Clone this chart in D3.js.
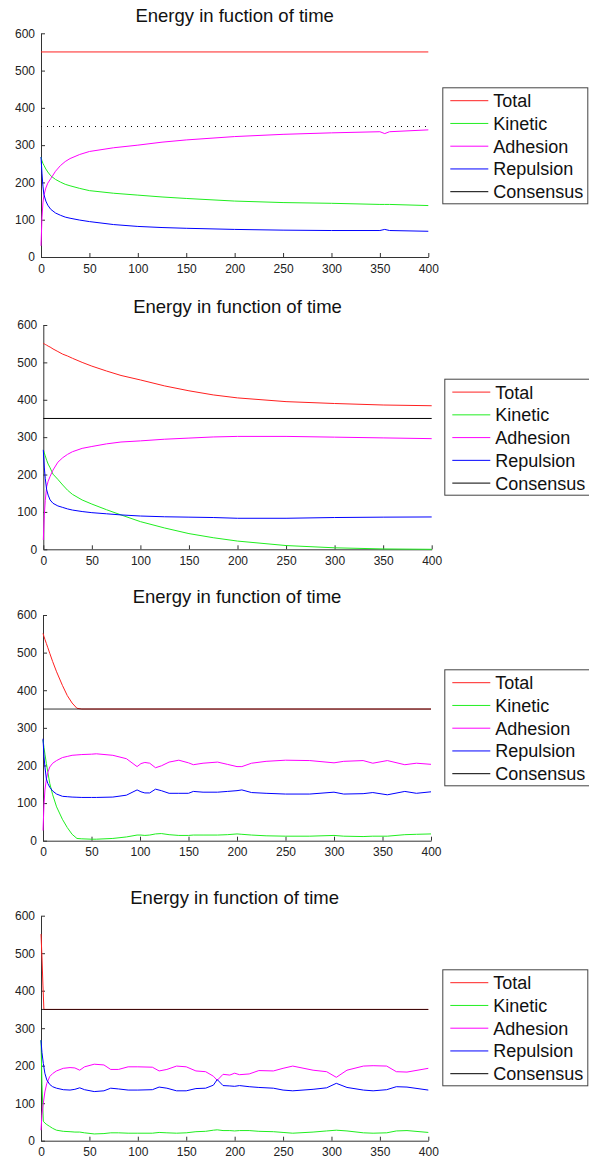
<!DOCTYPE html>
<html>
<head>
<meta charset="utf-8">
<script src="https://cdn.jsdelivr.net/npm/d3@7"></script>
<style>
  body { margin: 0; background: #fff; }
  svg { display: block; font-family: "Liberation Sans", Arial, Helvetica, sans-serif; }
  .tick text { fill: #222; font-size: 12px; }
  .domain, .tick line { stroke: #333; }
</style>
</head>
<body>
<div id="chart"></div>
<script>
const timeTicks = [0, 50, 100, 150, 200, 250, 300, 350, 400]
const energyTicks = [0, 100, 200, 300, 400, 500, 600]
const seriesNames = ["Total", "Kinetic", "Adhesion", "Repulsion", "Consensus"]
const seriesColors = ["#ff2020", "#20ee20", "#ff00ff", "#0000ff", "#000000"]
const panelTitles = [
    "Energy in fuction of time",
    "Energy in function of time",
    "Energy in function of time",
    "Energy in function of time"
]

const flatTime = [0, 400]

// panel 1
const time1 = [0, 1, 2, 3, 5, 7, 10, 15, 20, 25, 30, 40, 50, 75, 100, 125, 150, 200, 250, 300, 350, 355, 360, 400]
const total1 = [550, 550]
const kinetic1 = [268, 258, 251, 246, 236, 228, 218, 208, 201, 195, 191, 184, 178, 171, 166, 161, 157, 150, 146, 144, 141, 141, 141, 138]
const adhesion1 = [30, 105, 145, 165, 185, 198, 210, 230, 245, 256, 264, 275, 283, 293, 300, 308, 314, 323, 329, 333, 336, 331, 336, 341]
const repulsion1 = [268, 225, 190, 168, 150, 139, 128, 118, 112, 107, 104, 99, 95, 87, 82, 79, 77, 74, 72, 71, 71, 74, 71, 69]
const consensus1 = [350, 350]

// panel 2
const time2 = [0, 1, 2, 3.5, 5, 7, 10, 15, 20, 25, 30, 40, 50, 65, 80, 100, 125, 150, 175, 200, 250, 300, 350, 400]
const total2 = [551, 549.5, 548, 546, 543.5, 541, 536, 529, 522, 517, 511, 500, 490, 477, 465, 453, 437, 424, 413, 405, 395, 390, 386, 384]
const kinetic2 = [266, 258, 250, 238, 228, 218, 201, 187, 172, 158, 147, 132, 121, 106, 92, 74, 57, 42, 31, 22, 10, 4, 1, 0]
const adhesion2 = [25, 90, 130, 168, 182, 195, 212, 233, 245, 254, 261, 270, 275, 282, 287, 290, 294.5, 297.5, 300.5, 302, 302, 300, 298, 296]
const repulsion2 = [266, 220, 190, 159, 145, 132, 123, 116, 112, 108, 105, 101, 98, 95, 92, 89, 87, 86, 85, 83, 83, 85, 86, 86.5]
const consensus2 = [350, 350]

// panel 3
const time3 = [0, 1, 2, 3.5, 5, 7, 10, 14, 20, 25, 30, 35, 40, 50, 55, 72, 86, 97, 101, 105, 110, 116, 122, 130, 140, 150, 155, 165, 180, 190, 200, 205, 215, 230, 250, 275, 300, 310, 330, 340, 355, 373, 385, 400]
const total3Time = [0, 1, 2, 3.5, 5, 7, 10, 14, 20, 25, 30, 35, 40, 400]
const total3 = [551, 543, 535, 524, 513, 498, 476, 449, 413, 386, 366, 352, 350, 350]
const kinetic3 = [268, 248, 230, 205, 182, 152, 122, 90, 57, 35, 17, 6, 5, 4, 4, 6, 10, 15, 15, 14, 15, 18, 19, 16, 14, 14, 15, 15, 15, 16, 18, 17, 15, 13, 12, 12, 14, 12, 11, 12, 12, 16, 17, 18]
const adhesion3 = [27, 95, 135, 164, 182, 196, 206, 213, 221, 224, 227, 228, 229, 230, 231, 227, 218, 197, 205, 208, 206, 194, 199, 209, 214, 207, 202, 206, 209, 203, 197, 197, 206, 211, 214, 213, 207, 211, 213, 206, 213, 202, 206, 203]
const repulsion3 = [271, 225, 196, 164, 152, 142, 132, 124, 118, 117, 116, 115.5, 115, 115, 115, 116, 121, 135, 130, 127, 127, 137, 133, 126, 126, 126, 131, 129, 129, 131, 133, 135, 128, 126, 124, 124, 129, 124, 125, 128, 122, 131, 126, 130]
const consensus3 = [350, 350]

// panel 4
const time4 = [0, 1, 2.4, 4, 6, 9, 12, 16, 23, 30, 35, 40, 45, 55, 65, 72, 80, 90, 100, 115, 122, 130, 140, 150, 160, 170, 178, 182, 188, 195, 200, 205, 215, 225, 240, 250, 260, 281, 295, 305, 316, 333, 343, 357, 367, 378, 400]
const total4Time = [0, 1, 2, 3, 400]
const total4 = [551, 490, 415, 350, 350]
const kinetic4 = [268, 150, 52, 47, 43, 38, 33, 28, 25, 24, 23, 23, 21, 18, 19, 21, 21, 20, 20, 20, 22, 21, 20, 21, 24, 25, 28, 29, 27, 27, 26, 27, 27, 25, 24, 22, 20, 23, 26, 28, 26, 21, 20, 21, 26, 27, 22]
const adhesion4 = [28, 70, 100, 130, 153, 171, 179, 186, 193, 195, 194, 188, 197, 204, 202, 190, 190, 197, 197, 196, 186, 190, 199, 197, 186, 184, 172, 161, 177, 175, 180, 176, 178, 187, 186, 193, 199, 188, 184, 169, 188, 199, 200, 199, 184, 183, 193]
const repulsion4 = [268, 235, 206, 180, 162, 150, 144, 140, 136, 135, 137, 141, 136, 131, 133, 140, 138, 135, 135, 136, 143, 140, 133, 133, 139, 140, 148, 163, 147, 146, 145, 147, 144, 142, 140, 135, 133, 137, 141, 153, 142, 135, 133, 136, 144, 143, 135]
const consensus4 = [350, 350]

const panelData = [
    [[flatTime, total1], [time1, kinetic1], [time1, adhesion1], [time1, repulsion1], [flatTime, consensus1]],
    [[time2, total2], [time2, kinetic2], [time2, adhesion2], [time2, repulsion2], [flatTime, consensus2]],
    [[total3Time, total3], [time3, kinetic3], [time3, adhesion3], [time3, repulsion3], [flatTime, consensus3]],
    [[total4Time, total4], [time4, kinetic4], [time4, adhesion4], [time4, repulsion4], [flatTime, consensus4]]
]

// layout of the four stacked axes
const frames = [
    { left: 41, right: 428.3, top: 33.3, bottom: 257, titleY: 16, legendX: 442.3, legendY: 87.3, consensusDash: "1,5" },
    { left: 43.3, right: 431.7, top: 325, bottom: 549.3, titleY: 307, legendX: 444.3, legendY: 378.7, consensusDash: null },
    { left: 43, right: 431, top: 615, bottom: 840.7, titleY: 597, legendX: 444.3, legendY: 669.3, consensusDash: null },
    { left: 41, right: 428.3, top: 915.7, bottom: 1140.7, titleY: 898, legendX: 442.3, legendY: 969.3, consensusDash: null }
]

const svg = d3.select("#chart")
    .append("svg")
    .attr("width", 589)
    .attr("height", 1161)

frames.forEach((f, p) => {
    const x = d3.scaleLinear().domain([0, 400]).range([f.left, f.right])
    const y = d3.scaleLinear().domain([0, 600]).range([f.bottom, f.top])

    const g = svg.append("g")

    g.append("g")
        .attr("transform", `translate(0,${f.bottom})`)
        .call(d3.axisBottom(x).tickValues(timeTicks).tickSize(-4).tickSizeOuter(0).tickPadding(7))

    g.append("g")
        .attr("transform", `translate(${f.left},0)`)
        .call(d3.axisLeft(y).tickValues(energyTicks).tickSize(-4).tickSizeOuter(0).tickPadding(6))

    const line = d3.line()
        .x(d => x(d[0]))
        .y(d => y(d[1]))

    panelData[p].forEach((s, i) => {
        const pts = s[0].map((t, k) => [t, s[1][k]])
        g.append("path")
            .datum(pts)
            .attr("d", line)
            .attr("fill", "none")
            .attr("stroke", seriesColors[i])
            .attr("stroke-width", 1)
            .attr("stroke-opacity", i === 4 && p > 1 ? 0.8 : 1)
            .attr("stroke-dasharray", i === 4 ? f.consensusDash : null)
    })

    g.append("text")
        .attr("x", (f.left + f.right) / 2)
        .attr("y", f.titleY)
        .attr("dy", "0.35em")
        .attr("text-anchor", "middle")
        .attr("font-size", 18.5)
        .attr("fill", "#111")
        .text(panelTitles[p])

    // legend
    const lg = g.append("g").attr("transform", `translate(${f.legendX},${f.legendY})`)
    lg.append("rect")
        .attr("x", 0.5).attr("y", 0.5)
        .attr("width", 145).attr("height", 116)
        .attr("fill", "#fff")
        .attr("stroke", "#444")

    seriesNames.forEach((name, i) => {
        const cy = 13.4 + i * 22.75
        lg.append("line")
            .attr("x1", 8).attr("x2", 46)
            .attr("y1", cy).attr("y2", cy)
            .attr("stroke", seriesColors[i])
            .attr("stroke-width", 1)
        lg.append("text")
            .attr("x", 51)
            .attr("y", cy)
            .attr("dy", "0.36em")
            .attr("font-size", 18)
            .attr("fill", "#111")
            .text(name)
    })
})
</script>
</body>
</html>
